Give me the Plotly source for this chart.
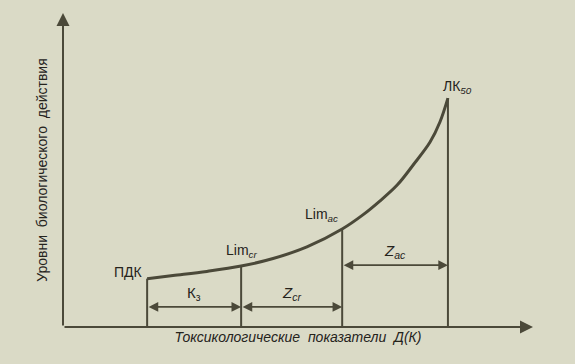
import plotly.graph_objects as go

# Curve (arbitrary units)
curve_x = [1.79, 2.34, 3.06, 3.79, 4.47, 5.19, 5.94, 6.38, 6.74, 7.11, 7.45, 7.81, 8.02, 8.19]
curve_y = [1.54, 1.64, 1.77, 1.94, 2.18, 2.55, 3.12, 3.57, 4.01, 4.52, 5.16, 5.89, 6.53, 7.29]

# Threshold points
thr_names = ["ПДК", "Lim<sub><i>cr</i></sub>", "Lim<sub><i>ac</i></sub>", "ЛК<sub><i>50</i></sub>"]
thr_x = [1.79, 3.79, 5.94, 8.19]
thr_y = [1.54, 1.94, 3.12, 7.29]

# Zones (double arrows)
zone_names = ["К<sub>з</sub>", "<i>Z<sub>cr</sub></i>", "<i>Z<sub>ac</sub></i>"]
zone_from = [1.79, 3.79, 5.94]
zone_to = [3.79, 5.94, 8.19]
zone_y = [0.64, 0.64, 1.97]

INK = "#4b4939"
TXT = "#25231c"
BG = "#dadac6"
FONT = "Liberation Sans, Arial, sans-serif"

fig = go.Figure()
fig.add_trace(go.Scatter(x=curve_x, y=curve_y, mode="lines",
                         line=dict(color=INK, width=3, shape="spline", smoothing=1.0),
                         hoverinfo="skip", showlegend=False))

# vertical drop lines
for x, y in zip(thr_x, thr_y):
    fig.add_trace(go.Scatter(x=[x, x], y=[0, y], mode="lines", line=dict(color=INK, width=2),
                             hoverinfo="skip", showlegend=False))

anns = []
# axes as arrows
anns.append(dict(x=0, y=10, ax=0, ay=0, xref="x", yref="y", axref="x", ayref="y", showarrow=True,
                 arrowhead=2, arrowsize=1.3, arrowwidth=2, arrowcolor=INK, text=""))
anns.append(dict(x=10, y=0, ax=0, ay=0, xref="x", yref="y", axref="x", ayref="y", showarrow=True,
                 arrowhead=2, arrowsize=1.3, arrowwidth=2, arrowcolor=INK, text=""))
# zone arrows
for x0, x1, y in zip(zone_from, zone_to, zone_y):
    anns.append(dict(x=x1, y=y, ax=x0, ay=y, xref="x", yref="y", axref="x", ayref="y", showarrow=True,
                     arrowhead=2, startarrowhead=2, arrowside="end+start", arrowsize=1.2,
                     startarrowsize=1.2, arrowwidth=1.6, arrowcolor=INK, text=""))
# zone labels
for name, x0, x1, y in zip(zone_names, zone_from, zone_to, zone_y):
    anns.append(dict(x=(x0 + x1) / 2, y=y, xref="x", yref="y", text=name, showarrow=False,
                     yanchor="bottom", yshift=2, font=dict(size=15, color=TXT, family=FONT)))
# threshold labels
lab_dx = [-0.05, 0.0, -0.45, 0.2]
lab_anchor = ["right", "center", "center", "center"]
lab_shift = [-3, 4, 3, 0]
for name, x, y, dx, anc, sh in zip(thr_names, thr_x, thr_y, lab_dx, lab_anchor, lab_shift):
    anns.append(dict(x=x + dx, y=y, xref="x", yref="y", text=name, showarrow=False, xanchor=anc,
                     yanchor="bottom", yshift=sh, font=dict(size=14, color=TXT, family=FONT)))

fig.update_layout(
    width=575, height=364,
    margin=dict(l=63, r=42, t=13, b=37),
    paper_bgcolor=BG, plot_bgcolor=BG,
    annotations=anns,
    xaxis=dict(range=[0, 10], showgrid=False, zeroline=False, showticklabels=False, showline=False,
               title=dict(text="<i>Токсикологические  показатели  Д(К)</i>", standoff=5,
                          font=dict(size=14, color=TXT, family=FONT))),
    yaxis=dict(range=[0, 10], showgrid=False, zeroline=False, showticklabels=False, showline=False,
               title=dict(text="Уровни  биологического  действия", standoff=11,
                          font=dict(size=14, color=TXT, family=FONT))),
)
fig.write_html("out.html")
